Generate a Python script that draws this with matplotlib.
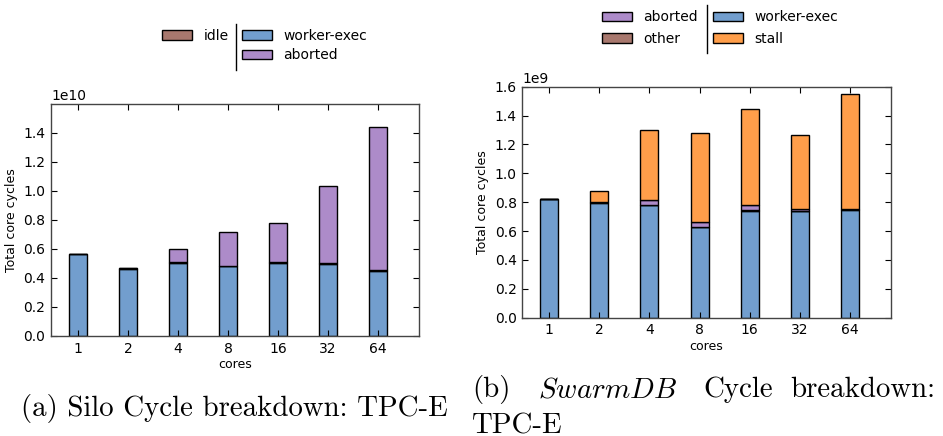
import numpy as np
import matplotlib
matplotlib.use('Agg')
import matplotlib.pyplot as plt
from matplotlib.patches import Patch
from matplotlib.lines import Line2D

# cores on the x axis
cores = ['1', '2', '4', '8', '16', '32', '64']

# Silo cycle breakdown (units of 1e10 cycles)
silo_worker = [0.563, 0.465, 0.505, 0.480, 0.506, 0.499, 0.451]
silo_idle = [0.003, 0.007, 0.006, 0.003, 0.003, 0.002, 0.006]
silo_aborted = [0.0, 0.0, 0.088, 0.237, 0.269, 0.530, 0.984]

# SwarmDB cycle breakdown (units of 1e9 cycles)
swarm_worker = [0.820, 0.797, 0.779, 0.625, 0.740, 0.736, 0.744]
swarm_other = [0.004, 0.006, 0.004, 0.005, 0.004, 0.003, 0.006]
swarm_aborted = [0.0, 0.0, 0.030, 0.030, 0.036, 0.014, 0.003]
swarm_stall = [0.0, 0.072, 0.487, 0.619, 0.663, 0.515, 0.796]

blue = '#729ECE'
purple = '#AD8BC9'
brown = '#A8786E'
orange = '#FF9E4A'

plt.rcParams['mathtext.fontset'] = 'cm'
plt.rcParams['font.family'] = 'DejaVu Sans'

fig = plt.figure(figsize=(9.43, 4.36), dpi=100)
ax1 = fig.add_axes([0.0541, 0.2294, 0.3902, 0.5321])
ax2 = fig.add_axes([0.5539, 0.2713, 0.3907, 0.5298])

x = np.arange(len(cores))
w = 0.36


def stack(ax, parts, scale):
    bottom = np.zeros(len(cores))
    for vals, col in parts:
        v = np.array(vals) * scale
        ax.bar(x, v, w, bottom=bottom, color=col, edgecolor='black',
               linewidth=1, align='center')
        bottom += v


stack(ax1, [(silo_worker, blue), (silo_idle, brown), (silo_aborted, purple)], 1e10)
stack(ax2, [(swarm_worker, blue), (swarm_other, brown),
            (swarm_aborted, purple), (swarm_stall, orange)], 1e9)

for ax, top in [(ax1, 1.6e10), (ax2, 1.6e9)]:
    ax.set_xlim(-0.54, 6.82)
    ax.set_ylim(0, top)
    ax.set_xticks(x)
    ax.set_xticklabels(cores)
    ax.tick_params(direction='in', top=True, right=True, length=4,
                   labelsize=10, pad=4)
    for s in ax.spines.values():
        s.set_color('#444444')
        s.set_linewidth(1)
    ax.set_xlabel('cores', fontsize=9, labelpad=2)
    ax.set_ylabel('Total core cycles', fontsize=9)
    ax.yaxis.get_offset_text().set_fontsize(10)

ax1.set_yticks(np.arange(0, 1.41e10, 0.2e10))
ax2.set_yticks(np.arange(0, 1.61e9, 0.2e9))

# legends (split into two columns with a separator line)
kw = dict(frameon=False, fontsize=10, handlelength=2.2, handleheight=0.7,
          handletextpad=0.8, borderpad=0, borderaxespad=0, loc='center left')
fig.legend([Patch(facecolor=brown, edgecolor='black')], ['idle'],
           bbox_to_anchor=(0.1715, 0.9174), **kw)
fig.legend([Patch(facecolor=blue, edgecolor='black'),
            Patch(facecolor=purple, edgecolor='black')],
           ['worker-exec', 'aborted'], labelspacing=0.38,
           bbox_to_anchor=(0.2563, 0.8952), **kw)
fig.add_artist(Line2D([0.2503, 0.2503], [0.945, 0.8394], color='black', lw=1))

fig.legend([Patch(facecolor=purple, edgecolor='black'),
            Patch(facecolor=brown, edgecolor='black')],
           ['aborted', 'other'], labelspacing=0.55,
           bbox_to_anchor=(0.638, 0.9351), **kw)
fig.legend([Patch(facecolor=blue, edgecolor='black'),
            Patch(facecolor=orange, edgecolor='black')],
           ['worker-exec', 'stall'], labelspacing=0.55,
           bbox_to_anchor=(0.7558, 0.9351), **kw)
fig.add_artist(Line2D([0.7494, 0.7494], [0.9885, 0.879], color='black', lw=1))

# captions
fs = 20.8
cap = dict(family='cmr10', fontsize=fs, va='baseline')
fig.text(20.7 / 943, 0.0459, '(a) Silo Cycle breakdown: TPC-E', ha='left', **cap)
fig.text(472 / 943, 0.0894, '(b)', ha='left', **cap)
fig.text(538 / 943, 0.0894, r'$\mathit{SwarmDB}$', ha='left', fontsize=fs, va='baseline')
fig.text(703 / 943, 0.0894, 'Cycle', ha='left', **cap)
fig.text(935 / 943, 0.0894, 'breakdown:', ha='right', **cap)
fig.text(472 / 943, 0.0055, 'TPC-E', ha='left', **cap)

fig.savefig('out.png', dpi=100)
